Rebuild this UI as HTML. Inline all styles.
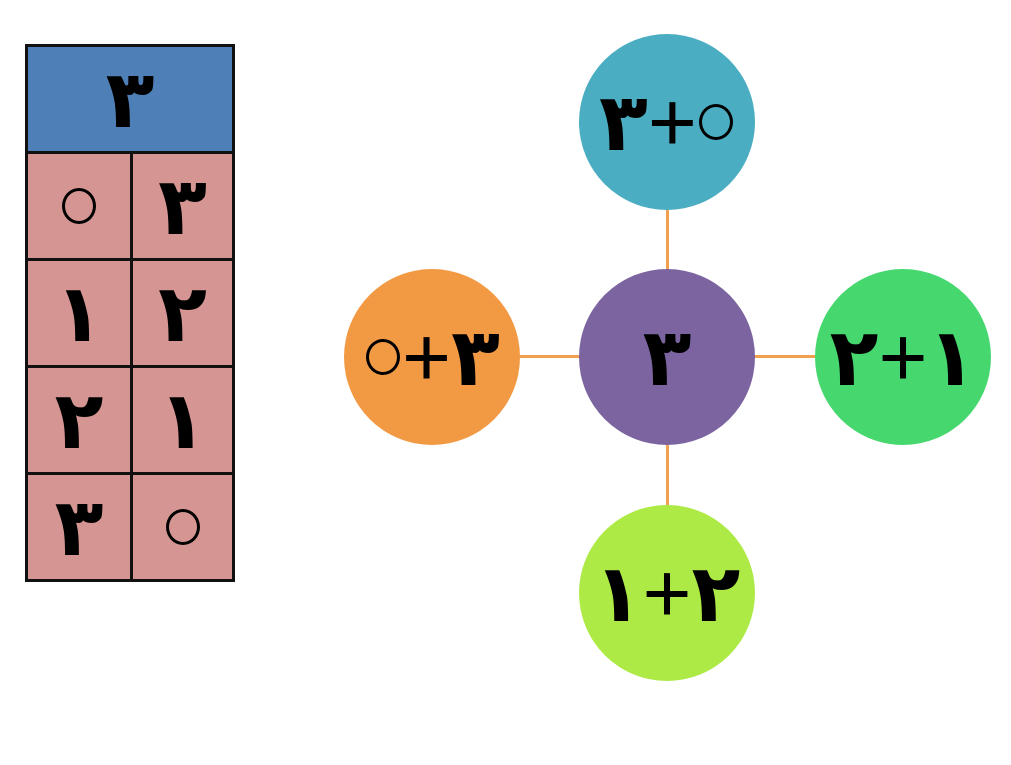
<!DOCTYPE html>
<html><head><meta charset="utf-8"><style>
html,body{margin:0;padding:0;background:#fff;width:1011px;height:765px;overflow:hidden;position:relative}
.t{font-family:"Liberation Sans","Noto Sans CJK SC","DejaVu Sans",sans-serif;font-weight:bold;color:#000;direction:ltr;unicode-bidi:bidi-override;}
.cell{position:absolute;box-sizing:border-box;border:3px solid #111;background:#d59592;display:flex;align-items:center;justify-content:center;font-size:80px}
.c{position:absolute;width:176px;height:176px;border-radius:50%;display:flex;align-items:center;justify-content:center;font-size:80px}
.l{position:absolute;background:#f0a04e}
.z{display:inline-block;box-sizing:border-box;width:34px;height:36px;border:3.5px solid #000;border-radius:50%;color:transparent;font-size:10px;line-height:26px;overflow:hidden;vertical-align:middle;margin:0 2px}
.p{font-weight:normal;font-size:84px;margin:0 0px;line-height:1}
</style></head><body>
<div class="cell t" style="left:25px;top:44px;width:210px;height:110px;background:#4e7fb6">۳</div>
<div class="cell t" style="left:25px;top:151px;width:108px;height:110px"><span class="z">۰</span></div>
<div class="cell t" style="left:130px;top:151px;width:105px;height:110px">۳</div>
<div class="cell t" style="left:25px;top:258px;width:108px;height:110px">۱</div>
<div class="cell t" style="left:130px;top:258px;width:105px;height:110px">۲</div>
<div class="cell t" style="left:25px;top:365px;width:108px;height:110px">۲</div>
<div class="cell t" style="left:130px;top:365px;width:105px;height:110px">۱</div>
<div class="cell t" style="left:25px;top:472px;width:108px;height:110px">۳</div>
<div class="cell t" style="left:130px;top:472px;width:105px;height:110px"><span class="z">۰</span></div>

<div class="l" style="left:666px;top:210px;width:3px;height:60px"></div>
<div class="l" style="left:666px;top:445px;width:3px;height:60px"></div>
<div class="l" style="left:520px;top:355px;width:60px;height:3px"></div>
<div class="l" style="left:755px;top:355px;width:60px;height:3px"></div>

<div class="c t" style="left:579px;top:34px;background:#4aadc1">۳<span class="p">+</span><span class="z">۰</span></div>
<div class="c t" style="left:579px;top:269px;background:#7b649f">۳</div>
<div class="c t" style="left:344px;top:269px;background:#f29944"><span class="z">۰</span><span class="p">+</span>۳</div>
<div class="c t" style="left:815px;top:269px;background:#46d86f">۲<span class="p">+</span>۱</div>
<div class="c t" style="left:579px;top:505px;background:#adea45">۱<span class="p">+</span>۲</div>
</body></html>
